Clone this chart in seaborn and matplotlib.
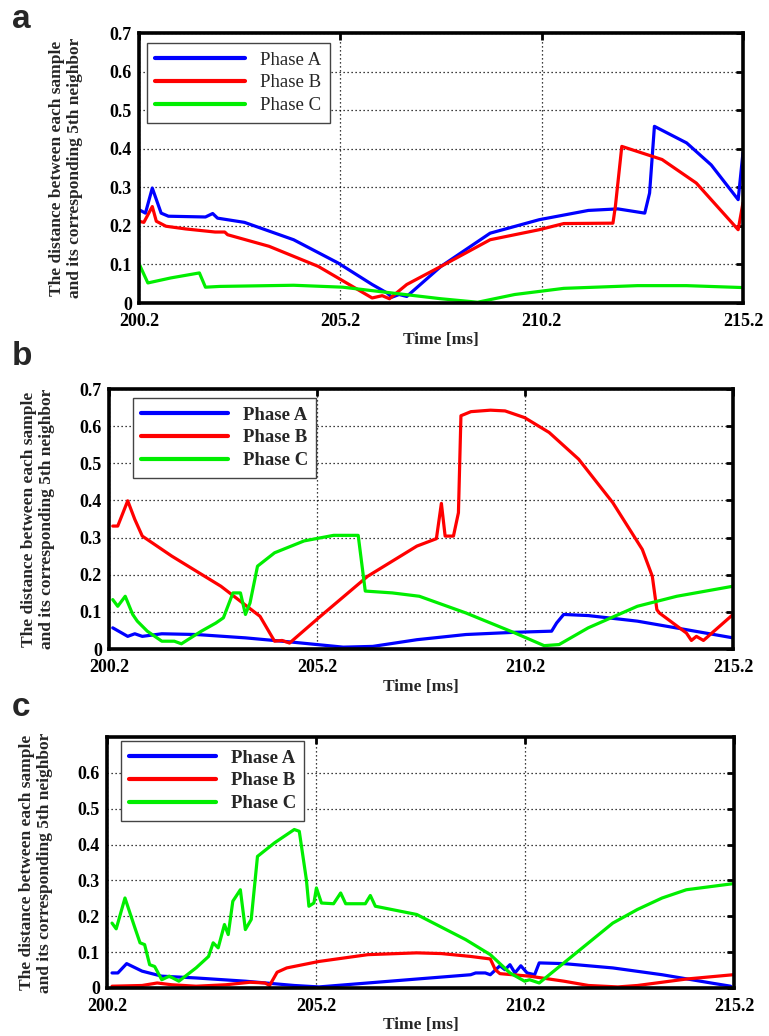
import numpy as np
import pandas as pd
import matplotlib
matplotlib.use("Agg")
import matplotlib.pyplot as plt
import seaborn as sns

# ---------------- data ----------------
# Panel a
a_A_t = [200.2, 200.36, 200.53, 200.75, 200.93, 201.85, 202.03, 202.15, 202.82, 204.04, 205.14, 205.99,
         206.36, 206.48, 206.66, 206.85, 207.7, 208.92, 210.14, 211.36, 212.09, 212.76, 212.88, 213.0,
         213.8, 214.41, 215.08, 215.2]
a_A_v = [0.242, 0.233, 0.298, 0.233, 0.225, 0.223, 0.232, 0.22, 0.209, 0.164, 0.104, 0.048,
         0.026, 0.015, 0.022, 0.017, 0.095, 0.181, 0.216, 0.240, 0.244, 0.233, 0.285, 0.458,
         0.415, 0.358, 0.268, 0.39]
a_B_t = [200.2, 200.32, 200.53, 200.63, 200.87, 201.36, 202.09, 202.33, 202.4, 203.43, 204.65, 205.5,
         205.99, 206.24, 206.42, 206.85, 207.7, 208.92, 210.14, 210.75, 211.97, 212.03, 212.19, 213.19,
         214.04, 215.08, 215.2]
a_B_v = [0.212, 0.209, 0.25, 0.212, 0.199, 0.192, 0.184, 0.184, 0.177, 0.147, 0.095, 0.043,
         0.013, 0.019, 0.011, 0.048, 0.095, 0.164, 0.19, 0.206, 0.207, 0.25, 0.406, 0.372,
         0.311, 0.19, 0.26]
a_C_t = [200.2, 200.42, 200.99, 201.7, 201.85, 202.21, 204.04, 205.26, 206.48, 207.7, 208.61, 209.53,
         210.75, 212.58, 213.8, 215.2]
a_C_v = [0.102, 0.052, 0.065, 0.078, 0.041, 0.043, 0.046, 0.041, 0.026, 0.011, 0.002, 0.022,
         0.038, 0.045, 0.045, 0.04]

# Panel b
b_A_t = [200.29, 200.65, 200.82, 201.0, 201.47, 202.3, 203.48, 204.65, 205.83, 206.54, 207.6, 208.78,
         209.96, 210.84, 210.96, 211.13, 211.72, 212.9, 214.08, 215.2]
b_A_v = [0.057, 0.034, 0.041, 0.034, 0.041, 0.039, 0.03, 0.018, 0.005, 0.007, 0.025, 0.039,
         0.045, 0.048, 0.07, 0.093, 0.09, 0.075, 0.052, 0.03]
b_B_t = [200.29, 200.41, 200.65, 200.82, 201.0, 201.71, 202.89, 203.83, 204.18, 204.36, 204.54, 205.24,
         206.42, 207.6, 208.07, 208.19, 208.28, 208.48, 208.6, 208.66, 208.9, 209.37, 209.72, 210.19,
         210.78, 211.49, 212.31, 213.02, 213.26, 213.37, 213.43, 214.08, 214.2, 214.32, 214.49, 215.2]
b_B_v = [0.331, 0.331, 0.399, 0.349, 0.304, 0.25, 0.169, 0.088, 0.021, 0.023, 0.016, 0.084,
         0.196, 0.277, 0.297, 0.392, 0.304, 0.304, 0.367, 0.628, 0.639, 0.643, 0.641, 0.623,
         0.583, 0.511, 0.394, 0.268, 0.196, 0.106, 0.097, 0.043, 0.023, 0.034, 0.023, 0.093]
b_C_t = [200.29, 200.41, 200.59, 200.77, 200.88, 201.12, 201.47, 201.77, 201.94, 202.42, 202.77, 202.95,
         203.18, 203.36, 203.48, 203.59, 203.77, 204.18, 204.89, 205.6, 206.19, 206.36, 207.01, 207.66,
         208.78, 209.96, 210.66, 211.02, 211.72, 212.9, 213.85, 215.2]
b_C_v = [0.133, 0.115, 0.142, 0.093, 0.075, 0.048, 0.021, 0.021, 0.014, 0.048, 0.07, 0.084,
         0.151, 0.151, 0.093, 0.124, 0.223, 0.259, 0.291, 0.306, 0.306, 0.156, 0.151, 0.142,
         0.097, 0.043, 0.009, 0.012, 0.057, 0.115, 0.142, 0.169]

# Panel c
c_A_t = [200.32, 200.46, 200.67, 201.04, 201.51, 202.33, 203.51, 204.68, 205.27, 206.44, 207.61, 208.9,
         209.02, 209.25, 209.37, 209.6, 209.72, 209.84, 209.96, 210.1, 210.25, 210.43, 210.54, 211.13,
         212.3, 213.48, 214.65, 215.12]
c_A_v = [0.042, 0.042, 0.068, 0.047, 0.033, 0.028, 0.019, 0.007, 0.003, 0.014, 0.025, 0.037,
         0.042, 0.042, 0.037, 0.062, 0.051, 0.065, 0.042, 0.062, 0.042, 0.037, 0.07, 0.068,
         0.056, 0.037, 0.014, 0.005]
c_B_t = [200.32, 201.04, 201.4, 201.75, 202.33, 203.04, 203.62, 203.98, 204.09, 204.27, 204.5, 205.27,
         206.44, 207.61, 208.2, 208.9, 209.37, 209.49, 209.6, 210.31, 211.13, 211.72, 212.42, 212.89,
         214.06, 215.18]
c_B_v = [0.005, 0.007, 0.014, 0.009, 0.005, 0.009, 0.016, 0.014, 0.007, 0.044, 0.056, 0.074,
         0.093, 0.098, 0.096, 0.088, 0.081, 0.051, 0.04, 0.033, 0.019, 0.007, 0.003, 0.007,
         0.025, 0.037]
c_C_t = [200.32, 200.42, 200.63, 200.87, 200.99, 201.1, 201.22, 201.34, 201.51, 201.69, 201.92, 202.33,
         202.63, 202.74, 202.86, 203.01, 203.1, 203.21, 203.39, 203.51, 203.65, 203.8, 204.21, 204.68,
         204.8, 204.97, 205.03, 205.15, 205.21, 205.33, 205.62, 205.79, 205.91, 206.38, 206.5, 206.62,
         207.61, 208.78, 209.37, 209.84, 210.19, 210.31, 210.54, 211.13, 212.3, 212.89, 213.48, 214.06,
         215.18]
c_C_v = [0.181, 0.165, 0.251, 0.167, 0.126, 0.121, 0.065, 0.06, 0.023, 0.033, 0.019, 0.056,
         0.088, 0.126, 0.112, 0.177, 0.149, 0.242, 0.274, 0.163, 0.191, 0.367, 0.405, 0.442,
         0.437, 0.302, 0.228, 0.237, 0.279, 0.237, 0.235, 0.265, 0.235, 0.235, 0.258, 0.228,
         0.205, 0.135, 0.093, 0.042, 0.019, 0.023, 0.014, 0.07, 0.181, 0.219, 0.251, 0.274,
         0.291]

x_ticks = [200.2, 205.2, 210.2, 215.2]
x_ticklabels = ["200.2", "205.2", "210.2", "215.2"]
y_ticks_ab = [0, 0.1, 0.2, 0.3, 0.4, 0.5, 0.6, 0.7]
y_ticklabels_ab = ["0", "0.1", "0.2", "0.3", "0.4", "0.5", "0.6", "0.7"]
y_ticks_c = [0, 0.1, 0.2, 0.3, 0.4, 0.5, 0.6]
y_ticklabels_c = ["0", "0.1", "0.2", "0.3", "0.4", "0.5", "0.6"]
series_names = ["Phase A", "Phase B", "Phase C"]
series_colors = ["#0000ff", "#ff0000", "#00ee00"]
panel_letters = ["a", "b", "c"]
x_label = "Time [ms]"
y_label = "The distance between each sample\nand its corresponding 5th neighbor"

# ---------------- figure ----------------
sns.set_style("white")
plt.rcParams["font.family"] = ["Liberation Serif", "DejaVu Serif"]

W, H = 769, 1036
fig = plt.figure(figsize=(W / 100, H / 100), dpi=100)

def frac(left, top, right, bottom):
    return [left / W, 1 - bottom / H, (right - left) / W, (bottom - top) / H]

panels = [
    dict(rect=frac(139, 33, 743, 303), data=[(a_A_t, a_A_v), (a_B_t, a_B_v), (a_C_t, a_C_v)],
         yt=y_ticks_ab, ytl=y_ticklabels_ab, legbold=False,
         leg_anchor=(147, 43), letter_pos=(12, 20), ylab_x=66, xlab_y=340),
    dict(rect=frac(109, 389, 733, 649), data=[(b_A_t, b_A_v), (b_B_t, b_B_v), (b_C_t, b_C_v)],
         yt=y_ticks_ab, ytl=y_ticklabels_ab, legbold=True,
         leg_anchor=(133, 398), letter_pos=(12, 357), ylab_x=38, xlab_y=687),
    dict(rect=frac(107, 737, 734, 988), data=[(c_A_t, c_A_v), (c_B_t, c_B_v), (c_C_t, c_C_v)],
         yt=y_ticks_c, ytl=y_ticklabels_c, legbold=True,
         leg_anchor=(121, 741), letter_pos=(12, 707), ylab_x=36, xlab_y=1025),
]

for p, letter in zip(panels, panel_letters):
    ax = fig.add_axes(p["rect"])
    for (t, v), name, col in zip(p["data"], series_names, series_colors):
        df = pd.DataFrame({"t": t, "v": v})
        sns.lineplot(data=df, x="t", y="v", ax=ax, color=col, linewidth=2.3,
                     label=name, estimator=None, sort=False)
    ax.set_xlim(200.2, 215.2)
    ax.set_ylim(0, 0.7)
    ax.set_xticks(x_ticks)
    ax.set_xticklabels(x_ticklabels, fontsize=13, fontweight="bold")
    ax.set_yticks(p["yt"])
    ax.set_yticklabels(p["ytl"], fontsize=13, fontweight="bold")
    ax.grid(True, color="black", linestyle=(0, (1, 2.2)), linewidth=0.9)
    ax.set_axisbelow(True)
    for s in ax.spines.values():
        s.set_linewidth(2.6)
        s.set_color("black")
    ax.tick_params(direction="in", length=5, width=2, top=True, right=True,
                   colors="black")
    ax.tick_params(axis="x", pad=7)
    ax.tick_params(axis="y", pad=5)
    ax.set_xlabel("")
    ax.set_ylabel("")
    ax_top = (1 - p["rect"][1] - p["rect"][3]) * H
    ax_bot = (1 - p["rect"][1]) * H
    fig.text(p["ylab_x"] / W, 1 - (ax_top + ax_bot) / 2 / H, y_label, rotation=90,
             ha="center", va="center", fontsize=12.5, fontweight="bold", linespacing=1.15)
    ax_cx = (p["rect"][0] + p["rect"][2] / 2)
    fig.text(ax_cx, 1 - p["xlab_y"] / H, x_label, ha="center", va="center",
             fontsize=12.5, fontweight="bold")
    fig.text(p["letter_pos"][0] / W, 1 - p["letter_pos"][1] / H, letter, ha="left", va="center",
             fontsize=24, fontweight="bold", family=["Liberation Sans", "DejaVu Sans"])
    # legend
    lx, ly = p["leg_anchor"]
    leg = ax.legend(loc="upper left", bbox_to_anchor=(lx / W, 1 - ly / H),
                    bbox_transform=fig.transFigure, fancybox=False, framealpha=1,
                    edgecolor="#444444", handlelength=4.8 if not p["legbold"] else 4.6,
                    handletextpad=0.8,
                    borderpad=0.45, labelspacing=0.3, borderaxespad=0,
                    prop={"family": "Liberation Serif", "size": 13.5,
                          "weight": "bold" if p["legbold"] else "normal"})
    leg.get_frame().set_linewidth(1.0)
    for ln in leg.get_lines():
        ln.set_linewidth(3.0)

fig.savefig("out.png", dpi=100)
